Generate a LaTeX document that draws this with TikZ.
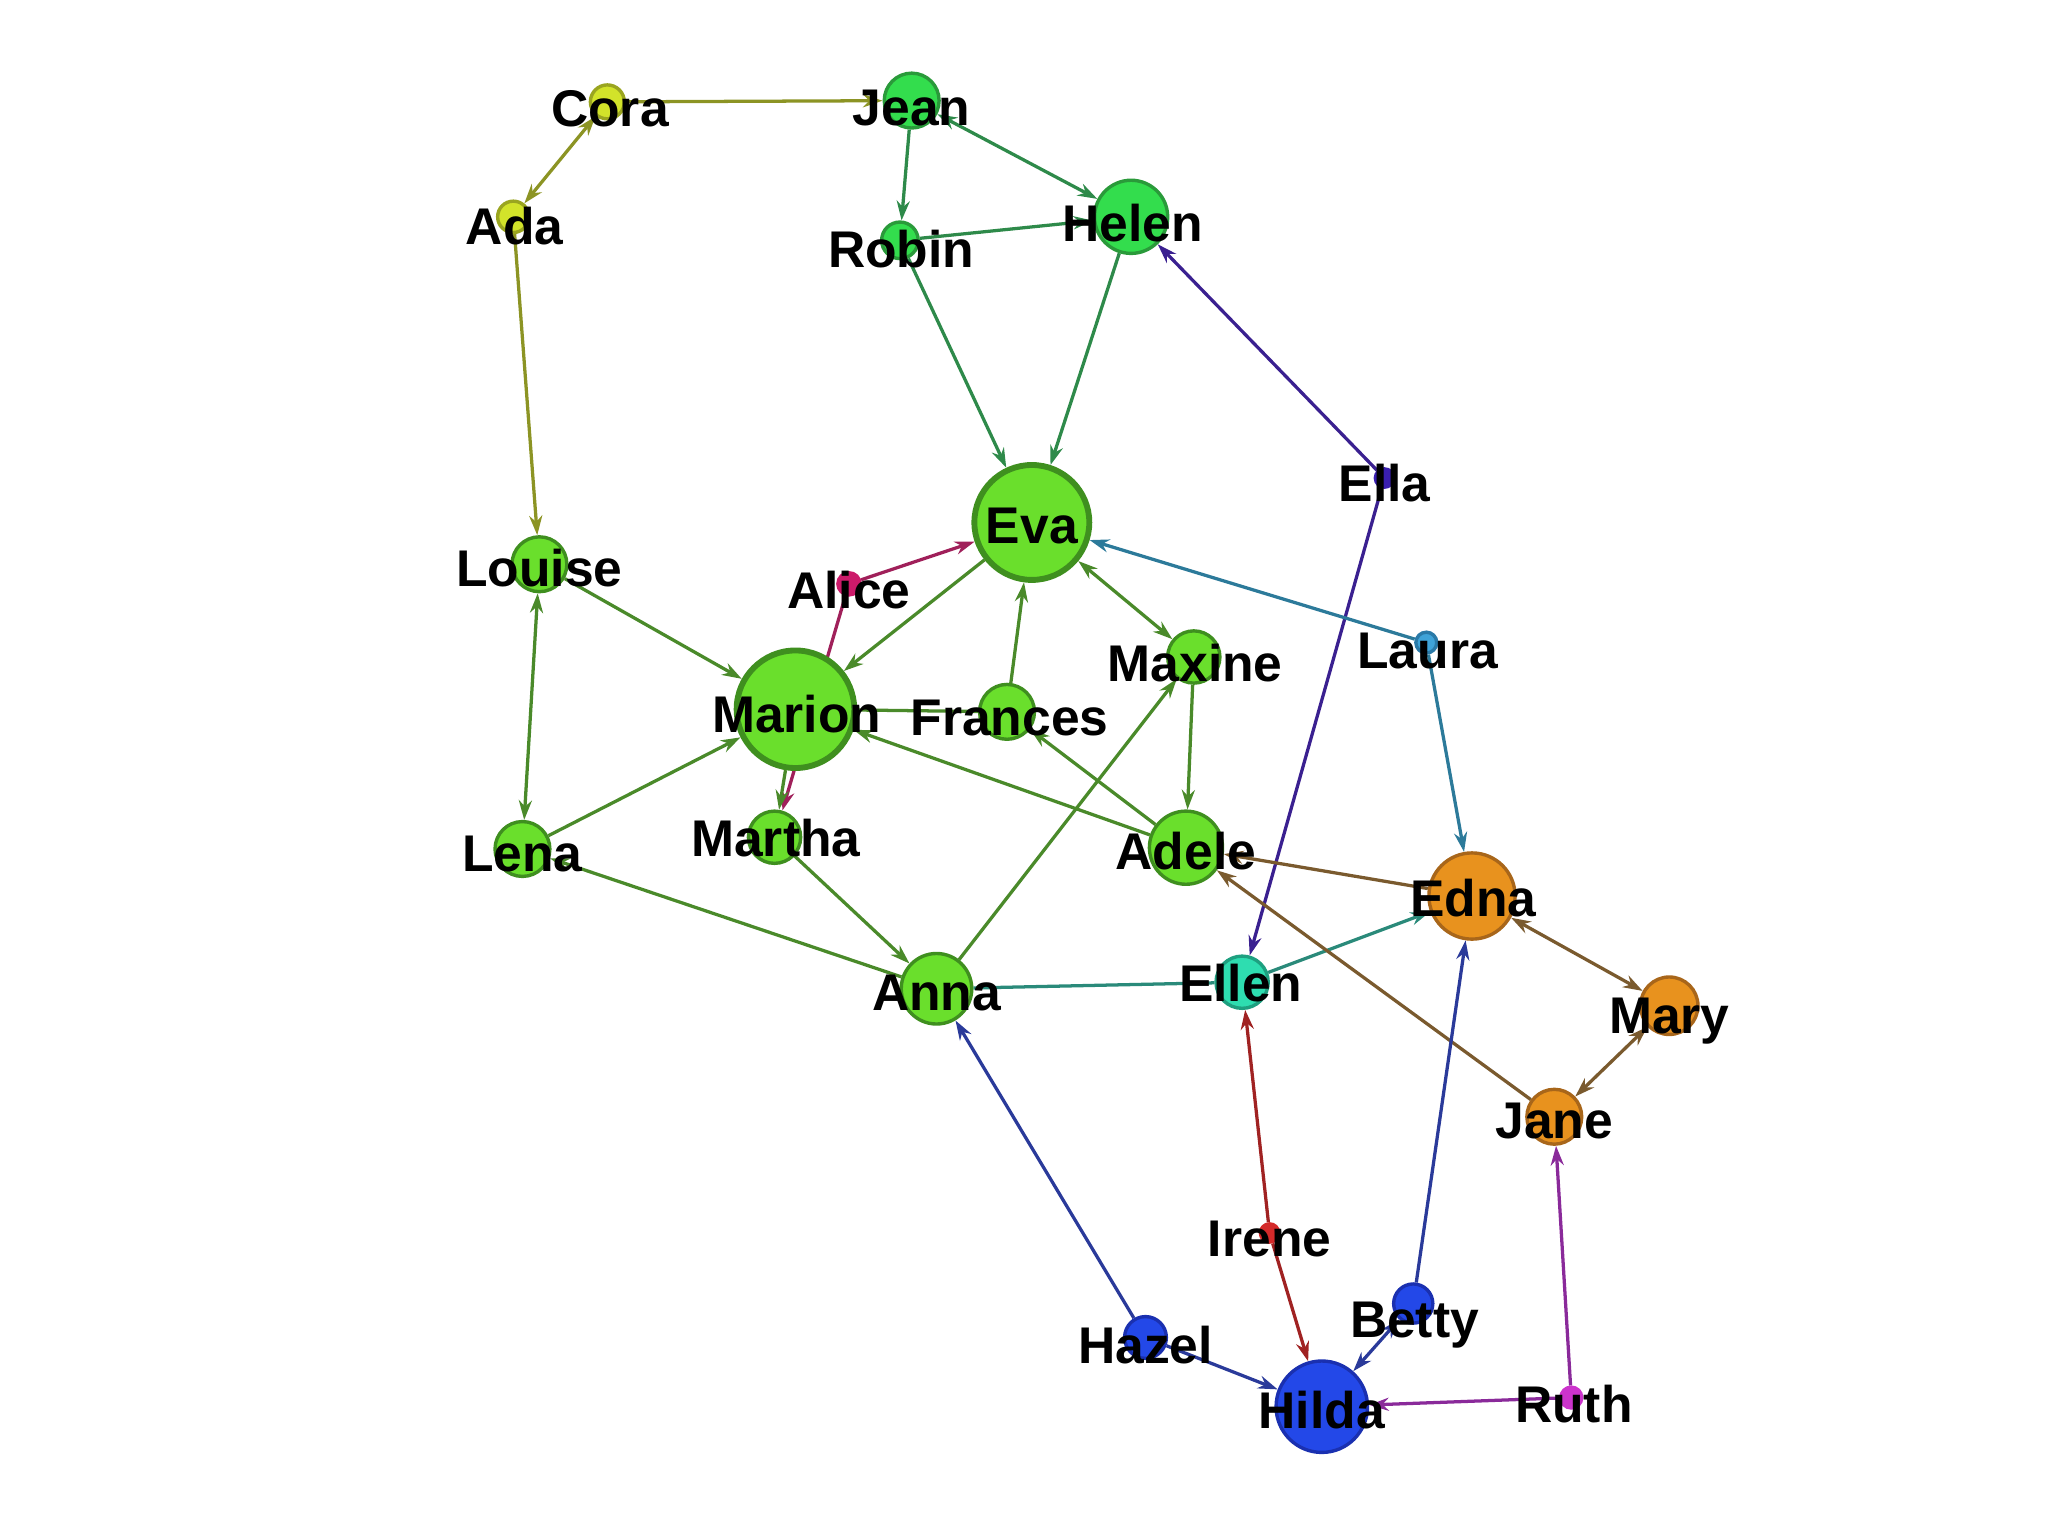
\documentclass[tikz,border=0pt]{standalone}
\usepackage{fontspec}
\setmainfont{Liberation Sans}
\usetikzlibrary{arrows.meta}
\pgfdeclarelayer{bg}
\pgfsetlayers{bg,main}
% node colours
\definecolor{limeF}{HTML}{6ADF2C}\definecolor{limeD}{HTML}{3F8F1F}
\definecolor{grnF}{HTML}{33DD4D}\definecolor{grnD}{HTML}{2A9A3A}
\definecolor{yelF}{HTML}{D2E32A}\definecolor{yelD}{HTML}{9AA520}
\definecolor{indF}{HTML}{3A1FB0}
\definecolor{ltbF}{HTML}{3FA3D8}\definecolor{ltbD}{HTML}{2A7AA8}
\definecolor{orgF}{HTML}{E8921E}\definecolor{orgD}{HTML}{A8661A}
\definecolor{turF}{HTML}{2EDDB0}\definecolor{turD}{HTML}{1EA080}
\definecolor{redF}{HTML}{D42A2A}
\definecolor{bluF}{HTML}{2348E8}\definecolor{bluD}{HTML}{1A30B0}
\definecolor{magF}{HTML}{CC33CC}
\definecolor{crmF}{HTML}{CC1A6A}
% edge colours
\definecolor{eOlive}{HTML}{8C9424}
\definecolor{eDkGrn}{HTML}{2E8A4A}
\definecolor{eGrn}{HTML}{4A8A2A}
\definecolor{eInd}{HTML}{3A2090}
\definecolor{eTeal}{HTML}{2C7A9A}
\definecolor{eTurq}{HTML}{2A8A7A}
\definecolor{eBrown}{HTML}{7A5A2E}
\definecolor{eRed}{HTML}{A02222}
\definecolor{eNavy}{HTML}{2A3A9A}
\definecolor{ePurp}{HTML}{8A2A9A}
\definecolor{eCrim}{HTML}{A0205A}
\tikzset{
  pn/.style={circle, inner sep=0pt, line width=2.6pt},
  lbl/.style={anchor=base, yshift=-14pt, inner sep=0pt, font=\fontsize{39.5}{40}\selectfont\bfseries, text=black},
  tipA/.tip={Stealth[length=15pt,width=10pt]},
  edg/.style={line width=2.5pt, -tipA},
  edgbi/.style={line width=2.5pt, tipA-tipA},
  edgpl/.style={line width=2.5pt}
}
\begin{document}
\begin{tikzpicture}[x=1pt,y=-1pt]
\useasboundingbox (0,0) rectangle (1568,1176);
% ---- circles
\node[pn, fill=yelF, draw=yelD, minimum size=26pt] (cora) at (465,78) {};
\node[pn, fill=grnF, draw=grnD, minimum size=42pt] (jean) at (698,77) {};
\node[pn, fill=yelF, draw=yelD, minimum size=24pt] (ada) at (393,166) {};
\node[pn, fill=grnF, draw=grnD, minimum size=28pt] (robin) at (689,184) {};
\node[pn, fill=grnF, draw=grnD, minimum size=56pt] (helen) at (866,166) {};
\node[pn, fill=indF, draw=indF, minimum size=14pt] (ella) at (1060,366) {};
\node[pn, fill=limeF, draw=limeD, line width=4.5pt, minimum size=88pt] (eva) at (790,400) {};
\node[pn, fill=limeF, draw=limeD, minimum size=42pt] (louise) at (413,432) {};
\node[pn, fill=crmF, draw=crmF, minimum size=17pt] (alice) at (650,447) {};
\node[pn, fill=limeF, draw=limeD, minimum size=40pt] (maxine) at (914,503) {};
\node[pn, fill=ltbF, draw=ltbD, minimum size=16pt] (laura) at (1092,492) {};
\node[pn, fill=limeF, draw=limeD, line width=4.5pt, minimum size=90pt] (marion) at (609,543) {};
\node[pn, fill=limeF, draw=limeD, minimum size=42pt] (frances) at (771,545) {};
\node[pn, fill=limeF, draw=limeD, minimum size=42pt] (lena) at (400,650) {};
\node[pn, fill=limeF, draw=limeD, minimum size=40pt] (martha) at (593,641) {};
\node[pn, fill=limeF, draw=limeD, minimum size=56pt] (adele) at (908,649) {};
\node[pn, fill=orgF, draw=orgD, minimum size=66pt] (edna) at (1127,686) {};
\node[pn, fill=turF, draw=turD, minimum size=40pt] (ellen) at (951,752) {};
\node[pn, fill=limeF, draw=limeD, minimum size=54pt] (anna) at (717,757) {};
\node[pn, fill=orgF, draw=orgD, minimum size=44pt] (mary) at (1278,770) {};
\node[pn, fill=orgF, draw=orgD, minimum size=42pt] (jane) at (1190,855) {};
\node[pn, fill=redF, draw=redF, minimum size=14pt] (irene) at (972,944) {};
\node[pn, fill=bluF, draw=bluD, minimum size=30pt] (betty) at (1082,998) {};
\node[pn, fill=bluF, draw=bluD, minimum size=32pt] (hazel) at (877,1024) {};
\node[pn, fill=bluF, draw=bluD, minimum size=70pt] (hilda) at (1012,1077) {};
\node[pn, fill=magF, draw=magF, minimum size=16pt] (ruth) at (1203,1070) {};
% ---- connectors
\begin{pgfonlayer}{bg}
\draw[edg, eOlive] (cora) -- (jean);
\draw[edgbi, eOlive] (cora) -- (ada);
\draw[edg, eOlive] (ada) -- (louise);
\draw[edg, eDkGrn] (jean) -- (robin);
\draw[edgbi, eDkGrn] (jean) -- (helen);
\draw[edg, eDkGrn] (robin) -- (helen);
\draw[edg, eDkGrn] (robin) -- (eva);
\draw[edg, eDkGrn] (helen) -- (eva);
\draw[edg, eInd] (ella) -- (helen);
\draw[edg, eInd] (ella) -- (ellen);
\draw[edg, eTeal] (laura) -- (eva);
\draw[edg, eTeal] (laura) -- (edna);
\draw[edgbi, eGrn] (eva) -- (maxine);
\draw[edg, eGrn] (eva) -- (marion);
\draw[edg, eCrim] (alice) -- (eva);
\draw[edg, eCrim] (alice) -- (martha);
\draw[edg, eGrn] (louise) -- (marion);
\draw[edgbi, eGrn] (louise) -- (lena);
\draw[edg, eGrn] (lena) -- (marion);
\draw[edg, eGrn] (frances) -- (eva);
\draw[edgpl, eGrn] (frances) -- (marion);
\draw[edg, eGrn] (adele) -- (marion);
\draw[edg, eGrn] (adele) -- (frances);
\draw[edg, eGrn] (maxine) -- (adele);
\draw[edg, eGrn] (anna) -- (maxine);
\draw[edg, eGrn] (anna) -- (lena);
\draw[edg, eGrn] (martha) -- (anna);
\draw[edg, eGrn] (marion) -- (martha);
\draw[edgpl, eTurq] (ellen) -- (anna);
\draw[edg, eTurq] (ellen) -- (edna);
\draw[edg, eBrown] (edna) -- (adele);
\draw[edg, eBrown] (jane) -- (adele);
\draw[edgbi, eBrown] (edna) -- (mary);
\draw[edgbi, eBrown] (mary) -- (jane);
\draw[edg, eRed] (irene) -- (ellen);
\draw[edg, eRed] (irene) -- (hilda);
\draw[edg, eNavy] (hazel) -- (anna);
\draw[edg, eNavy] (hazel) -- (hilda);
\draw[edg, eNavy] (betty) -- (edna);
\draw[edgbi, eNavy] (betty) -- (hilda);
\draw[edg, ePurp] (ruth) -- (hilda);
\draw[edg, ePurp] (ruth) -- (jane);
\end{pgfonlayer}
% ---- labels
\node[lbl] (coraL) at (467,83) {Cora};
\node[lbl] (jeanL) at (698,82) {Jean};
\node[lbl] (adaL) at (394,173) {Ada};
\node[lbl] (robinL) at (690,191) {Robin};
\node[lbl] (helenL) at (867,171) {Helen};
\node[lbl] (ellaL) at (1060,370) {Ella};
\node[lbl] (evaL) at (790,402) {Eva};
\node[lbl] (louiseL) at (413,435) {Louise};
\node[lbl] (aliceL) at (650,452) {Alice};
\node[lbl] (maxineL) at (915,508) {Maxine};
\node[lbl] (lauraL) at (1093,498) {Laura};
\node[lbl] (marionL) at (610,547) {Marion};
\node[lbl] (francesL) at (773,549) {Frances};
\node[lbl] (lenaL) at (400,653) {Lena};
\node[lbl] (marthaL) at (594,642) {Martha};
\node[lbl] (adeleL) at (908,652) {Adele};
\node[lbl] (ednaL) at (1128,688) {Edna};
\node[lbl] (ellenL) at (950,753) {Ellen};
\node[lbl] (annaL) at (717,760) {Anna};
\node[lbl] (maryL) at (1278,777) {Mary};
\node[lbl] (janeL) at (1190,858) {Jane};
\node[lbl] (ireneL) at (972,948) {Irene};
\node[lbl] (bettyL) at (1083,1010) {Betty};
\node[lbl] (hazelL) at (877,1030) {Hazel};
\node[lbl] (hildaL) at (1012,1080) {Hilda};
\node[lbl] (ruthL) at (1205,1075) {Ruth};
\end{tikzpicture}
\end{document}
